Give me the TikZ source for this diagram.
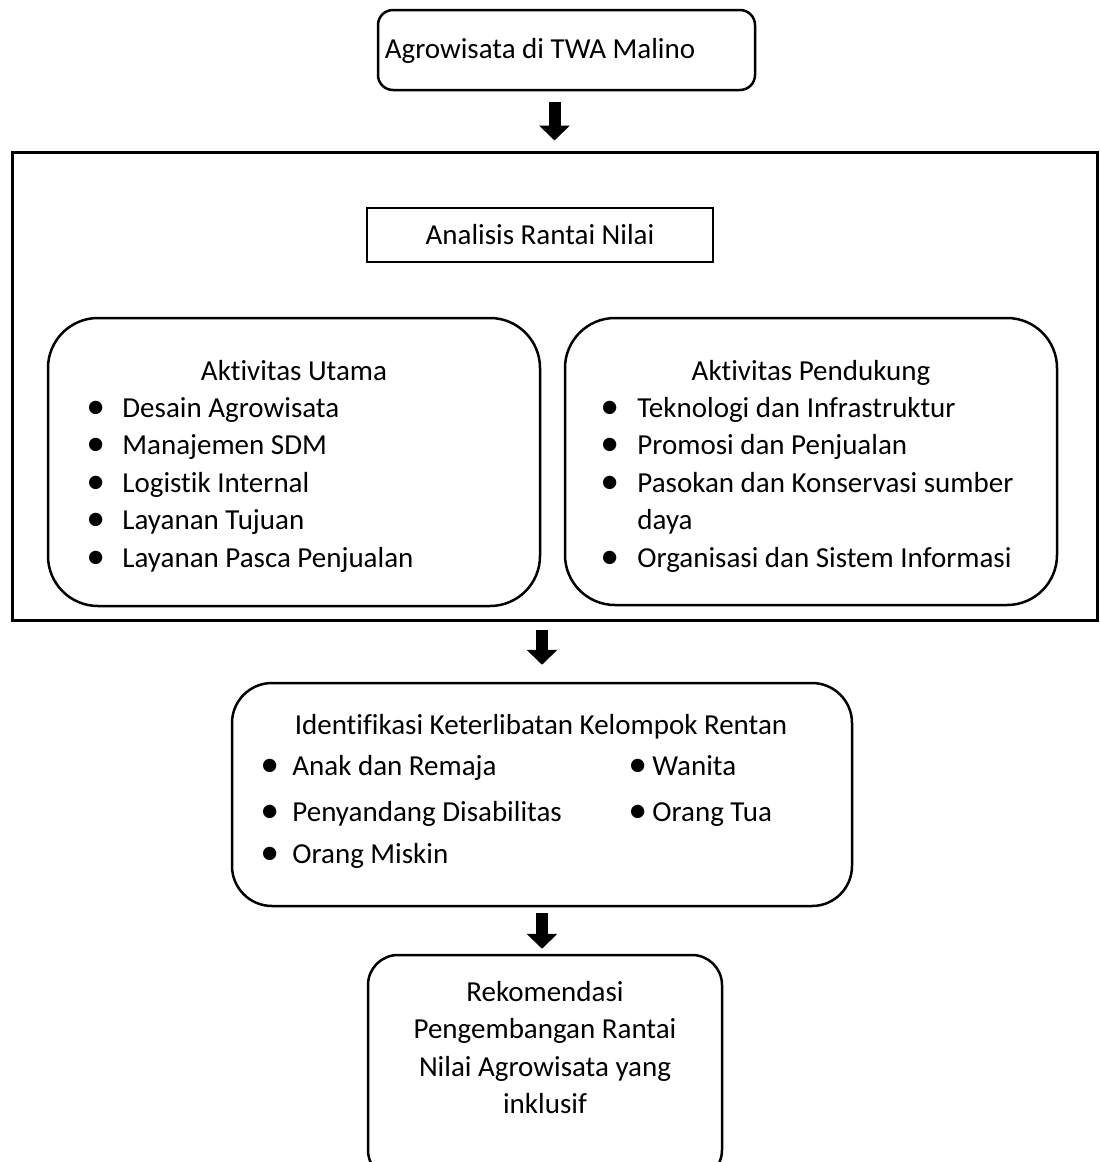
\documentclass[tikz,border=0pt]{standalone}
\usepackage{fontspec}
\setmainfont{Carlito}[Ligatures={NoCommon}]
\usetikzlibrary{arrows.meta}

\newcommand{\blt}{\raisebox{-0.1ex}{\scalebox{1.3}{\textbullet}}}

\begin{document}
\begin{tikzpicture}[x=0.5pt, y=-0.5pt, font=\fontsize{14.5pt}{18.75pt}\selectfont,
	rbox/.style={draw, line width=1.25pt, rounded corners=#1},
	blockarrow/.style={line width=6pt, -{Triangle[width=15pt, length=7.5pt]}}]
	\useasboundingbox (0,0) rectangle (1099,1162);

	\node[rbox=7.5pt, minimum width=188.5pt, minimum height=40pt] (top) at (566.5,50) {};
	\node[anchor=base] (topT) at (540,58) {Agrowisata di TWA Malino};
	\node[draw, line width=1.5pt, minimum width=542.5pt, minimum height=234pt] (rantai) at (554.5,386) {};
	\node[draw, line width=0.6pt, minimum width=173pt, minimum height=27pt] (analisis) at (540,235) {Analisis Rantai Nilai};

	% aktivitas utama
	\node[rbox=25pt, minimum width=246pt, minimum height=144pt] (utama) at (294,462) {};
	\node[anchor=base] (utamaT) at (294,380) {Aktivitas Utama};
	\node[anchor=base west, inner sep=0pt] (utamaL) at (86,417) {\begin{tabular}[t]{@{}p{18pt}@{}l@{}}
		\blt & Desain Agrowisata\\
		\blt & Manajemen SDM\\
		\blt & Logistik Internal\\
		\blt & Layanan Tujuan\\
		\blt & Layanan Pasca Penjualan
	\end{tabular}};

	% aktivitas pendukung
	\node[rbox=25pt, minimum width=246pt, minimum height=143.5pt] (pendukung) at (811,461.5) {};
	\node[anchor=base] (pendukungT) at (811,380) {Aktivitas Pendukung};
	\node[anchor=base west, inner sep=0pt] (pendukungL) at (600,417) {\begin{tabular}[t]{@{}p{18.5pt}@{}l@{}}
		\blt & Teknologi dan Infrastruktur\\
		\blt & Promosi dan Penjualan\\
		\blt & Pasokan dan Konservasi sumber\\
		& daya\\
		\blt & Organisasi dan Sistem Informasi
	\end{tabular}};

	% kelompok rentan
	\node[rbox=20pt, minimum width=310pt, minimum height=111.5pt] (ident) at (542,794.5) {};
	\node[anchor=base] (identT) at (541,734) {Identifikasi Keterlibatan Kelompok Rentan};
	\node[anchor=base west, inner sep=0pt] (identL) at (260,775) {\begin{tabular}[t]{@{}p{16pt}@{}l@{}}
		\blt & Anak dan Remaja\\[4.25pt]
		\blt & Penyandang Disabilitas\\[2.25pt]
		\blt & Orang Miskin
	\end{tabular}};
	\node[anchor=base west, inner sep=0pt] (identR) at (628,775) {\begin{tabular}[t]{@{}p{12pt}@{}l@{}}
		\blt & Wanita\\[4.25pt]
		\blt & Orang Tua
	\end{tabular}};

	% rekomendasi
	\node[rbox=15pt, minimum width=177pt, minimum height=112.5pt] (reko) at (545,1067.5) {};
	\node[anchor=base, inner sep=0pt] (rekoT) at (545,1001) {\begin{tabular}[t]{@{}c@{}}
		Rekomendasi\\
		Pengembangan Rantai\\
		Nilai Agrowisata yang\\
		inklusif
	\end{tabular}};

	\draw[blockarrow, shorten <=5.5pt, shorten >=5pt] (top.south -| rantai.north) -- (rantai.north);
	\draw[blockarrow, shorten <=4pt, shorten >=8.5pt] (ident.north |- rantai.south) -- (ident.north);
	\draw[blockarrow, shorten <=3pt, shorten >=2.5pt] (ident.south) -- (ident.south |- reko.north);
\end{tikzpicture}
\end{document}
